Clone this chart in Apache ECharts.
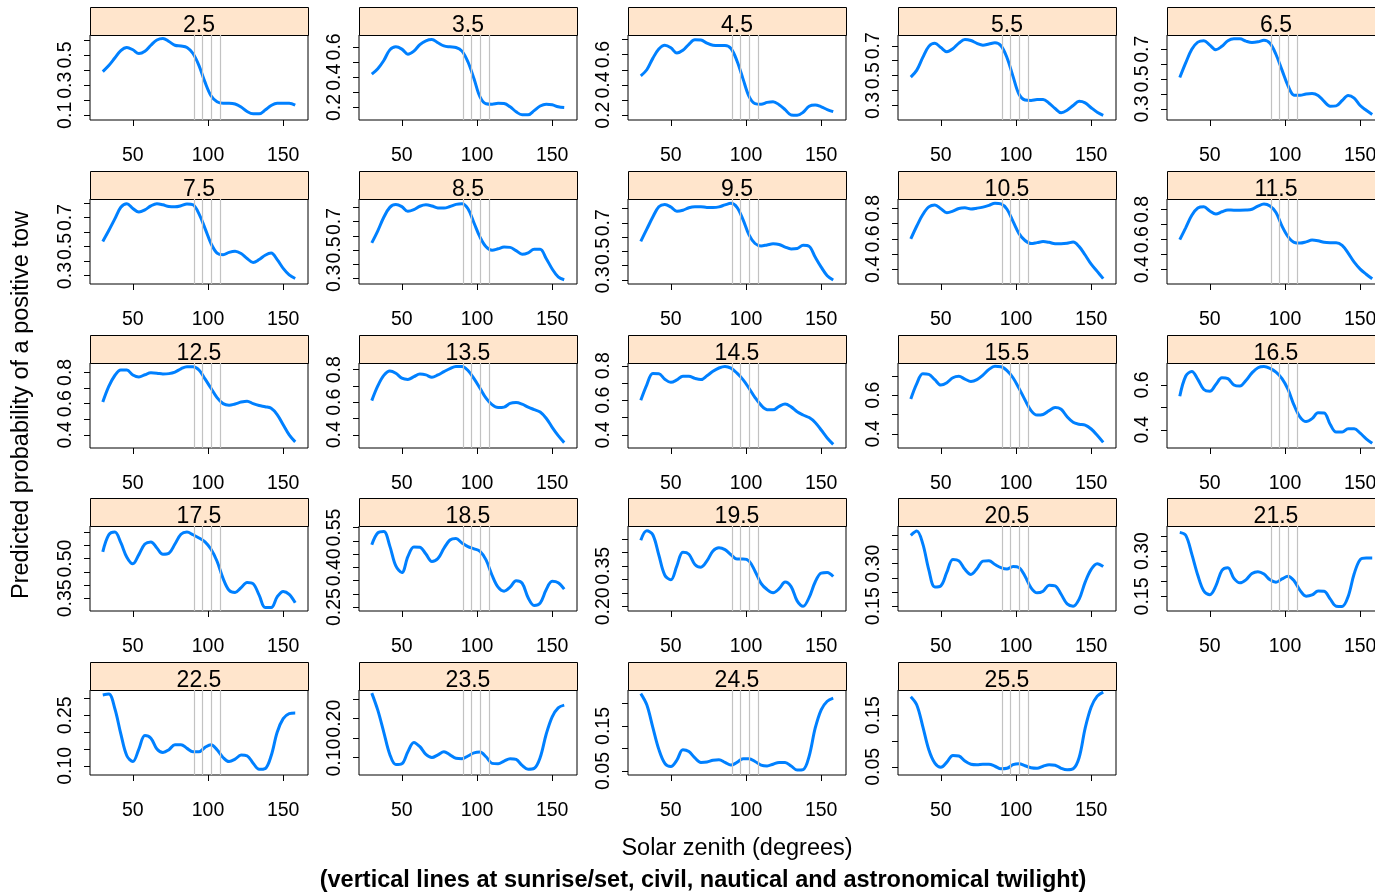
<!DOCTYPE html>
<html>
<head>
<meta charset="utf-8">
<script src="https://cdn.jsdelivr.net/npm/echarts@6/dist/echarts.min.js"></script>
<style>
  html, body { margin: 0; padding: 0; background: #fff; overflow: hidden; }
  #chart { width: 1375px; height: 894px; }
</style>
</head>
<body>
<div id="chart"></div>
<script>
// Solar zenith (degrees) at which the predicted probability is evaluated
const zenith = [30, 34, 38, 42, 46, 50, 54, 58, 62, 66, 70, 74, 78, 82, 86, 90, 94,
  98, 102, 106, 110, 114, 118, 122, 126, 130, 134, 138, 142, 146, 150, 154, 158];

// Panel (strip) labels
const depthBins = ['2.5', '3.5', '4.5', '5.5', '6.5', '7.5', '8.5', '9.5', '10.5', '11.5',
  '12.5', '13.5', '14.5', '15.5', '16.5', '17.5', '18.5', '19.5', '20.5', '21.5',
  '22.5', '23.5', '24.5', '25.5'];

// Sunrise/set, civil, nautical and astronomical twilight zenith angles
const twilight = [90.83, 96, 102, 108];

// Predicted probability of a positive tow, one array per panel
const p2_5  = [0.39,0.43,0.48,0.53,0.55,0.535,0.51,0.525,0.565,0.60,0.61,0.59,0.565,0.56,0.55,0.51,0.43,0.32,0.23,0.19,0.18,0.18,0.175,0.155,0.125,0.11,0.11,0.135,0.165,0.18,0.18,0.18,0.168];
const p3_5  = [0.42,0.456,0.51,0.58,0.60,0.585,0.552,0.572,0.615,0.64,0.648,0.627,0.606,0.60,0.596,0.572,0.50,0.39,0.27,0.225,0.222,0.228,0.226,0.205,0.172,0.152,0.152,0.18,0.21,0.222,0.218,0.205,0.20];
const p4_5  = [0.46,0.50,0.575,0.637,0.662,0.645,0.61,0.628,0.668,0.697,0.696,0.675,0.662,0.66,0.66,0.64,0.558,0.44,0.325,0.277,0.273,0.285,0.29,0.27,0.237,0.202,0.20,0.22,0.26,0.268,0.256,0.238,0.224];
const p5_5  = [0.49,0.537,0.622,0.696,0.716,0.688,0.66,0.68,0.718,0.742,0.735,0.716,0.704,0.712,0.72,0.70,0.62,0.495,0.375,0.337,0.334,0.34,0.34,0.315,0.28,0.252,0.268,0.30,0.328,0.318,0.285,0.255,0.234];
const p6_5  = [0.51,0.61,0.70,0.748,0.758,0.728,0.697,0.72,0.757,0.77,0.77,0.755,0.746,0.75,0.76,0.74,0.665,0.56,0.455,0.392,0.391,0.40,0.403,0.39,0.35,0.318,0.32,0.356,0.39,0.372,0.322,0.29,0.262];
const p7_5  = [0.535,0.61,0.69,0.77,0.795,0.762,0.737,0.752,0.78,0.795,0.787,0.775,0.773,0.78,0.793,0.787,0.725,0.625,0.52,0.455,0.443,0.46,0.468,0.452,0.418,0.39,0.41,0.44,0.455,0.41,0.35,0.305,0.28];
const p8_5  = [0.55,0.635,0.73,0.80,0.82,0.805,0.772,0.784,0.808,0.818,0.81,0.796,0.795,0.806,0.821,0.826,0.79,0.69,0.59,0.522,0.498,0.508,0.52,0.518,0.495,0.47,0.48,0.505,0.505,0.44,0.366,0.31,0.29];
const p9_5  = [0.57,0.655,0.74,0.812,0.828,0.81,0.78,0.787,0.805,0.812,0.812,0.807,0.807,0.811,0.825,0.836,0.808,0.722,0.615,0.555,0.538,0.545,0.553,0.548,0.53,0.517,0.52,0.542,0.535,0.46,0.39,0.33,0.30];
const p10_5 = [0.60,0.685,0.76,0.81,0.823,0.798,0.772,0.782,0.80,0.804,0.797,0.802,0.809,0.82,0.834,0.83,0.795,0.715,0.635,0.59,0.57,0.576,0.583,0.578,0.569,0.569,0.572,0.58,0.55,0.495,0.435,0.388,0.34];
const p11_5 = [0.60,0.68,0.762,0.81,0.818,0.79,0.77,0.785,0.797,0.796,0.796,0.797,0.802,0.823,0.836,0.823,0.78,0.69,0.62,0.582,0.577,0.585,0.597,0.592,0.582,0.58,0.58,0.562,0.51,0.45,0.404,0.37,0.34];
const p12_5 = [0.61,0.71,0.78,0.815,0.815,0.783,0.77,0.785,0.797,0.795,0.79,0.792,0.802,0.823,0.836,0.836,0.815,0.758,0.698,0.638,0.60,0.59,0.598,0.61,0.616,0.60,0.588,0.58,0.57,0.53,0.465,0.40,0.355];
const p13_5 = [0.61,0.70,0.765,0.792,0.778,0.748,0.74,0.757,0.773,0.768,0.753,0.768,0.788,0.807,0.82,0.82,0.795,0.745,0.686,0.625,0.585,0.567,0.57,0.593,0.598,0.588,0.57,0.555,0.54,0.502,0.446,0.395,0.352];
const p14_5 = [0.60,0.69,0.755,0.754,0.722,0.704,0.718,0.74,0.74,0.727,0.72,0.742,0.768,0.787,0.796,0.786,0.757,0.72,0.67,0.616,0.572,0.546,0.545,0.565,0.578,0.562,0.534,0.515,0.50,0.472,0.428,0.382,0.345];
const p15_5 = [0.58,0.66,0.71,0.707,0.68,0.652,0.664,0.69,0.697,0.683,0.671,0.68,0.703,0.733,0.749,0.747,0.727,0.69,0.635,0.575,0.52,0.497,0.50,0.52,0.536,0.527,0.488,0.46,0.45,0.445,0.425,0.393,0.356];
const p16_5 = [0.55,0.64,0.66,0.625,0.58,0.572,0.602,0.632,0.628,0.60,0.595,0.62,0.654,0.677,0.682,0.674,0.657,0.628,0.58,0.51,0.457,0.437,0.45,0.476,0.475,0.425,0.39,0.39,0.405,0.405,0.385,0.36,0.34];
const p17_5 = [0.525,0.59,0.60,0.56,0.505,0.48,0.515,0.555,0.563,0.54,0.516,0.52,0.555,0.592,0.60,0.59,0.578,0.563,0.535,0.49,0.425,0.38,0.372,0.39,0.41,0.405,0.362,0.315,0.315,0.355,0.376,0.365,0.333];
const p18_5 = [0.485,0.53,0.535,0.48,0.405,0.38,0.44,0.477,0.476,0.45,0.422,0.433,0.472,0.503,0.509,0.492,0.478,0.47,0.46,0.428,0.37,0.325,0.31,0.325,0.349,0.34,0.285,0.256,0.265,0.315,0.347,0.342,0.318];
const p19_5 = [0.445,0.48,0.465,0.39,0.315,0.298,0.35,0.40,0.393,0.355,0.345,0.368,0.405,0.417,0.41,0.391,0.375,0.375,0.368,0.33,0.285,0.262,0.25,0.265,0.29,0.273,0.22,0.20,0.233,0.29,0.323,0.325,0.31];
const p20_5 = [0.40,0.415,0.37,0.278,0.218,0.222,0.27,0.315,0.31,0.28,0.262,0.282,0.309,0.31,0.297,0.286,0.281,0.29,0.286,0.256,0.215,0.197,0.203,0.224,0.222,0.192,0.158,0.15,0.175,0.235,0.28,0.30,0.29];
const p21_5 = [0.362,0.352,0.29,0.22,0.168,0.156,0.185,0.236,0.245,0.21,0.195,0.205,0.226,0.232,0.224,0.205,0.197,0.208,0.217,0.202,0.17,0.151,0.155,0.168,0.167,0.142,0.118,0.117,0.15,0.225,0.272,0.277,0.277];
const p22_5 = [0.31,0.313,0.27,0.195,0.13,0.113,0.15,0.19,0.182,0.15,0.14,0.148,0.163,0.163,0.152,0.142,0.142,0.155,0.163,0.148,0.125,0.113,0.12,0.132,0.13,0.108,0.09,0.092,0.13,0.20,0.24,0.255,0.257];
const p23_5 = [0.266,0.222,0.165,0.108,0.082,0.084,0.115,0.139,0.128,0.108,0.10,0.107,0.115,0.107,0.098,0.097,0.104,0.112,0.114,0.102,0.085,0.084,0.091,0.097,0.095,0.08,0.07,0.072,0.10,0.16,0.205,0.228,0.235];
const p24_5 = [0.222,0.197,0.147,0.098,0.067,0.06,0.074,0.097,0.093,0.079,0.069,0.07,0.074,0.075,0.069,0.063,0.069,0.077,0.077,0.071,0.063,0.061,0.065,0.069,0.069,0.061,0.052,0.053,0.083,0.145,0.186,0.205,0.212];
const p25_5 = [0.186,0.17,0.128,0.083,0.057,0.049,0.059,0.072,0.071,0.061,0.055,0.054,0.055,0.055,0.051,0.046,0.047,0.054,0.056,0.052,0.048,0.047,0.051,0.054,0.053,0.047,0.044,0.046,0.068,0.125,0.166,0.187,0.195];

const probabilities = [p2_5, p3_5, p4_5, p5_5, p6_5, p7_5, p8_5, p9_5, p10_5, p11_5,
  p12_5, p13_5, p14_5, p15_5, p16_5, p17_5, p18_5, p19_5, p20_5, p21_5,
  p22_5, p23_5, p24_5, p25_5];

// Per-panel y extents (free scales)
const yLimits = [
  [0.069, 0.633], [0.118, 0.678], [0.169, 0.729], [0.203, 0.772], [0.225, 0.796],
  [0.242, 0.827], [0.26, 0.859], [0.272, 0.866], [0.305, 0.862], [0.305, 0.87],
  [0.316, 0.86], [0.319, 0.841], [0.324, 0.816], [0.327, 0.766], [0.319, 0.698],
  [0.302, 0.623], [0.235, 0.556], [0.1825, 0.4975], [0.133, 0.433], [0.102, 0.383],
  [0.073, 0.325], [0.055, 0.274], [0.041, 0.23], [0.034, 0.199]
];

// Per-panel y tick marks
const yTicks = [
  [0.1, 0.2, 0.3, 0.4, 0.5, 0.6], [0.2, 0.3, 0.4, 0.5, 0.6], [0.2, 0.3, 0.4, 0.5, 0.6, 0.7],
  [0.3, 0.4, 0.5, 0.6, 0.7], [0.3, 0.4, 0.5, 0.6, 0.7],
  [0.3, 0.4, 0.5, 0.6, 0.7, 0.8], [0.3, 0.4, 0.5, 0.6, 0.7, 0.8], [0.3, 0.4, 0.5, 0.6, 0.7, 0.8],
  [0.4, 0.5, 0.6, 0.7, 0.8], [0.4, 0.5, 0.6, 0.7, 0.8], [0.4, 0.5, 0.6, 0.7, 0.8],
  [0.4, 0.5, 0.6, 0.7, 0.8], [0.4, 0.5, 0.6, 0.7, 0.8], [0.4, 0.5, 0.6, 0.7], [0.4, 0.5, 0.6],
  [0.35, 0.4, 0.45, 0.5, 0.55, 0.6], [0.25, 0.3, 0.35, 0.4, 0.45, 0.5, 0.55],
  [0.2, 0.25, 0.3, 0.35, 0.4, 0.45], [0.15, 0.2, 0.25, 0.3, 0.35, 0.4],
  [0.15, 0.2, 0.25, 0.3, 0.35], [0.1, 0.15, 0.2, 0.25, 0.3], [0.1, 0.15, 0.2, 0.25],
  [0.05, 0.1, 0.15, 0.2], [0.05, 0.1, 0.15]
];

// Per-panel y tick labels
const yTickLabels = [
  ['0.1', '0.3', '0.5'], ['0.2', '0.4', '0.6'], ['0.2', '0.4', '0.6'],
  ['0.3', '0.5', '0.7'], ['0.3', '0.5', '0.7'], ['0.3', '0.5', '0.7'],
  ['0.3', '0.5', '0.7'], ['0.3', '0.5', '0.7'], ['0.4', '0.6', '0.8'],
  ['0.4', '0.6', '0.8'], ['0.4', '0.6', '0.8'], ['0.4', '0.6', '0.8'],
  ['0.4', '0.6', '0.8'], ['0.4', '0.6'], ['0.4', '0.6'],
  ['0.35', '0.50'], ['0.25', '0.40', '0.55'], ['0.20', '0.35'],
  ['0.15', '0.30'], ['0.15', '0.30'], ['0.10', '0.25'],
  ['0.10', '0.20'], ['0.05', '0.15'], ['0.05', '0.15']
];

const xTicks = [50, 100, 150];
const xLimits = [21.5, 166.5];

// Page layout (pixels)
const NCOL = 5;
const COL_X = 90, COL_STEP = 269.2, PANEL_W = 218;
const ROW_Y = 35, ROW_STEP = 163.8, PANEL_H = 85, STRIP_H = 28;
const FONT = "'Liberation Sans', Arial, Helvetica, sans-serif";
const TICK_FONT = 19.5, STRIP_FONT = 23, TITLE_FONT = 23.5;
const LINE_BLUE = '#0080ff';

const grids = [], xAxes = [], yAxes = [], series = [], graphics = [];

depthBins.forEach((bin, i) => {
  const col = i % NCOL, row = Math.floor(i / NCOL);
  const left = Math.round(COL_X + col * COL_STEP);
  const top = Math.round(ROW_Y + row * ROW_STEP);

  grids.push({
    left: left, top: top, width: PANEL_W, height: PANEL_H,
    show: true, borderColor: '#000', borderWidth: 1, backgroundColor: 'transparent',
    containLabel: false, outerBoundsMode: 'none'
  });

  xAxes.push({
    type: 'value', gridIndex: i, min: xLimits[0], max: xLimits[1],
    axisLine: { show: false }, splitLine: { show: false },
    axisTick: { show: true, customValues: xTicks, length: 6, lineStyle: { color: '#000', width: 1 } },
    axisLabel: { show: true, customValues: xTicks, fontSize: TICK_FONT, fontFamily: FONT, color: '#000', margin: 26 }
  });

  const labels = yTickLabels[i];
  yAxes.push({
    type: 'value', gridIndex: i, min: yLimits[i][0], max: yLimits[i][1],
    axisLine: { show: false }, splitLine: { show: false },
    axisTick: { show: true, customValues: yTicks[i], length: 6, lineStyle: { color: '#000', width: 1 } },
    axisLabel: {
      show: true, customValues: labels.map(Number), rotate: 90,
      fontSize: TICK_FONT, fontFamily: FONT, color: '#000', margin: 14,
      formatter: v => {
        const hit = labels.find(s => Math.abs(Number(s) - v) < 1e-9);
        return hit !== undefined ? hit : '';
      }
    }
  });

  // twilight reference lines
  series.push({
    type: 'line', xAxisIndex: i, yAxisIndex: i, data: [], z: 1, silent: true,
    markLine: {
      silent: true, symbol: ['none', 'none'], animation: false,
      label: { show: false },
      lineStyle: { color: '#c2c2c2', width: 1.2, type: 'solid' },
      data: twilight.map(v => ({ xAxis: v }))
    }
  });

  // predicted probability curve
  series.push({
    type: 'line', xAxisIndex: i, yAxisIndex: i, z: 3, silent: true,
    data: zenith.map((z, k) => [z, probabilities[i][k]]),
    showSymbol: false, smooth: 0.35,
    lineStyle: { color: LINE_BLUE, width: 3 }
  });

  // strip
  graphics.push({
    type: 'rect', silent: true,
    shape: { x: left + 0.5, y: top - STRIP_H + 0.5, width: PANEL_W, height: STRIP_H },
    style: { fill: '#ffe5cc', stroke: '#000', lineWidth: 1 }
  });
  graphics.push({
    type: 'text', silent: true, x: left + PANEL_W / 2, y: top - STRIP_H / 2 + 5,
    style: { text: bin, fill: '#000', font: STRIP_FONT + 'px ' + FONT, textAlign: 'center', textVerticalAlign: 'middle', verticalAlign: 'middle' }
  });
});

// axis titles
graphics.push({
  type: 'text', silent: true, x: 737, y: 849,
  style: { text: 'Solar zenith (degrees)', fill: '#000', font: TITLE_FONT + 'px ' + FONT, textAlign: 'center', textVerticalAlign: 'middle', verticalAlign: 'middle' }
});
graphics.push({
  type: 'text', silent: true, x: 703, y: 881,
  style: { text: '(vertical lines at sunrise/set, civil, nautical and astronomical twilight)', fill: '#000', font: 'bold ' + TITLE_FONT + 'px ' + FONT, textAlign: 'center', textVerticalAlign: 'middle', verticalAlign: 'middle' }
});
graphics.push({
  type: 'text', silent: true, x: 22, y: 405, rotation: Math.PI / 2,
  style: { text: 'Predicted probability of a positive tow', fill: '#000', font: TITLE_FONT + 'px ' + FONT, textAlign: 'center', textVerticalAlign: 'middle', verticalAlign: 'middle' }
});

const chart = echarts.init(document.getElementById('chart'), null, { renderer: 'canvas' });
chart.setOption({
  animation: false,
  backgroundColor: '#ffffff',
  grid: grids,
  xAxis: xAxes,
  yAxis: yAxes,
  series: series,
  graphic: { elements: graphics }
});
</script>
</body>
</html>
